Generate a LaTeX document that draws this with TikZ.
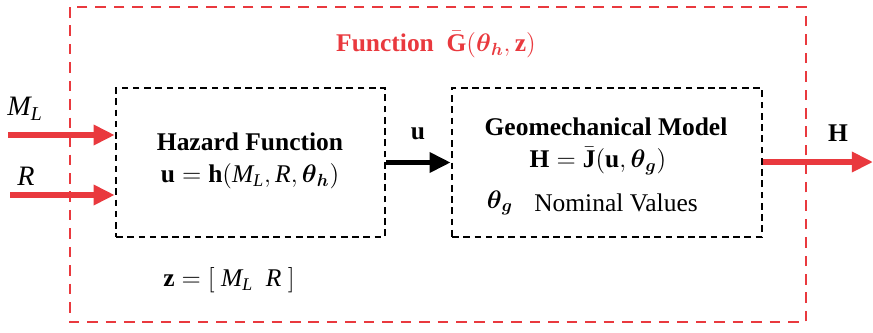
\documentclass[tikz,border=0pt]{standalone}
\usepackage{fontspec}
\setmainfont{Liberation Serif}
\usepackage{amsmath}
\usetikzlibrary{arrows.meta,positioning}
\definecolor{fred}{RGB}{233,57,62}
\tikzset{
  blkbox/.style={draw, line width=1.5pt, dash pattern=on 3.8pt off 2.6pt,
    minimum height=2.98cm, inner sep=0pt},
  redframe/.style={draw=fred, line width=1.3pt, dash pattern=on 6pt off 4.5pt},
  redarrow/.style={fred, line width=3pt, -{Triangle[length=12pt,width=11pt]}},
  blkarrow/.style={line width=3pt, -{Triangle[length=12pt,width=11pt]}},
  boldtxt/.style={font=\bfseries\fontsize{14.5}{17}\selectfont},
}

\begin{document}
\begin{tikzpicture}[x=0.02cm, y=-0.02cm, font=\fontsize{14.5}{17}\selectfont]
  \useasboundingbox (0,0) rectangle (873,332);
  \draw[redframe] (70,7) rectangle (806,322);
  \node[boldtxt, text=fred] (title) at (436,45)
    {Function~~$\bar{\mathbf{G}}(\boldsymbol{\theta}_{\boldsymbol{h}}, \mathbf{z})$};

  % the two blocks
  \node[blkbox, minimum width=5.38cm] (hazard) at (250.5,162.5) {};
  \node[blkbox, minimum width=6.2cm] (geo) at (607,162.5) {};

  \node[boldtxt] (hztitle) at (250,142) {Hazard Function};
  \node[boldtxt] (hzeq) at (250,176)
    {$\mathbf{u} = \mathbf{h}(\mathit{M}_{\mathit{L}}, \mathit{R}, \boldsymbol{\theta}_{\boldsymbol{h}})$};
  \node[boldtxt] (geotitle) at (606,127) {Geomechanical Model};
  \node[boldtxt] (geoeq) at (598,161)
    {$\mathbf{H} = \bar{\mathbf{J}}(\mathbf{u}, \boldsymbol{\theta}_{\boldsymbol{g}})$};
  \node (theta) at (500,203) {$\boldsymbol{\theta}_{\boldsymbol{g}}$};
  \node[right=5pt of theta.east, anchor=west] (nominal) {Nominal Values};
  \node (zvec) at (229,280) {$\mathbf{z} = [\ \mathit{M}_{\mathit{L}}\ \ \mathit{R}\ ]$};

  % inputs and outputs
  \coordinate (mlin) at (8,135);
  \coordinate (rin) at (10,195);
  \coordinate (hout) at (873,162);
  \node[font=\fontsize{16}{18}\selectfont] (mllab) at (25,109) {$\mathit{M}_{\mathit{L}}$};
  \node[font=\fontsize{16}{18}\selectfont] (rlab) at (26,176) {$\mathit{R}$};
  \node[boldtxt] (ulab) at (418,134) {u};
  \node[boldtxt] (hlab) at (838,133) {H};

  \draw[redarrow] (mlin) -- (mlin -| hazard.west);
  \draw[redarrow] (rin) -- (rin -| hazard.west);
  \draw[blkarrow] (hazard.east) -- (geo.west);
  \draw[redarrow] (geo.east |- hout) -- (hout);
\end{tikzpicture}
\end{document}
